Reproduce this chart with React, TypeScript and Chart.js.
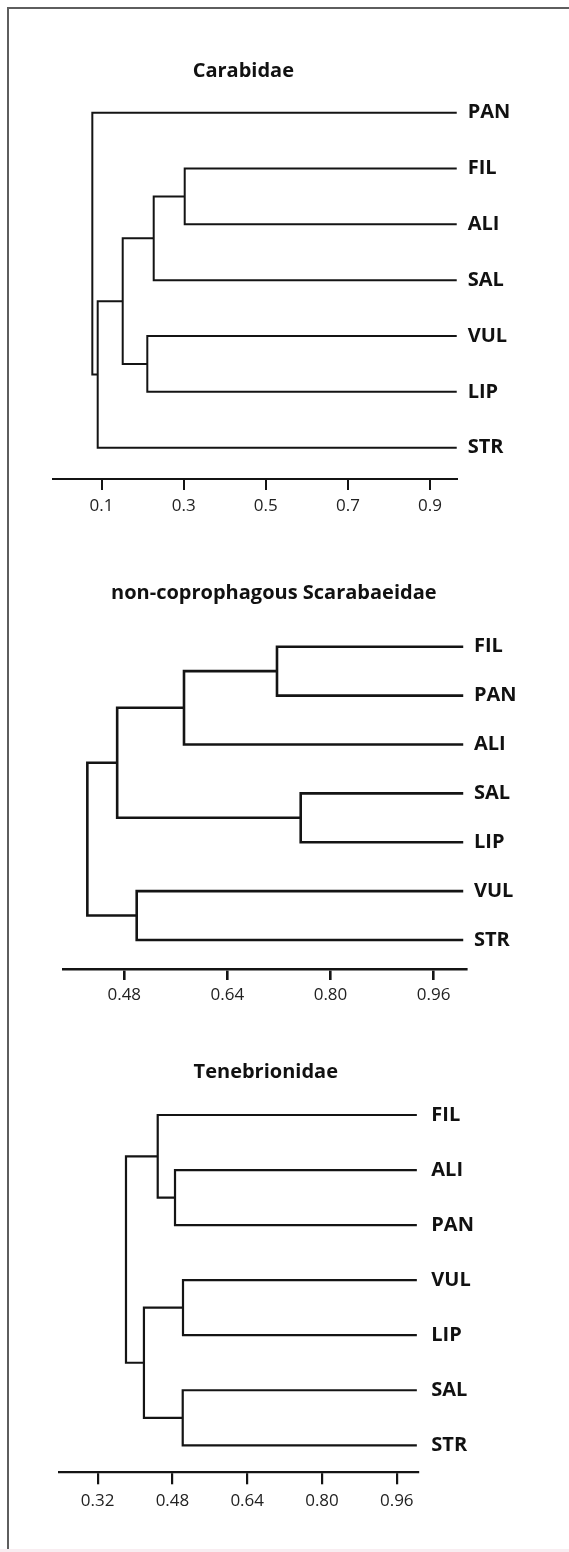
import React, { useEffect, useRef } from "react";
import { Chart, registerables } from "chart.js";

Chart.register(...registerables);

// ---------------- DATA ----------------
// Merges: [child A, child B, similarity level]; "#k" refers to the k-th merge.

const carabidaeTitle = "Carabidae";
const carabidaeLeaves = ["PAN", "FIL", "ALI", "SAL", "VUL", "LIP", "STR"];
const carabidaeMerges: [string, string, number][] = [
  ["FIL", "ALI", 0.3025],
  ["#0", "SAL", 0.227],
  ["VUL", "LIP", 0.2114],
  ["#1", "#2", 0.1515],
  ["#3", "STR", 0.0906],
  ["PAN", "#4", 0.0775],
];
const carabidaeLeafEnd = 0.965;
const carabidaeTickValues = [0.1, 0.3, 0.5, 0.7, 0.9];
const carabidaeTickLabels = ["0.1", "0.3", "0.5", "0.7", "0.9"];

const scarabTitle = "non-coprophagous Scarabaeidae";
const scarabLeaves = ["FIL", "PAN", "ALI", "SAL", "LIP", "VUL", "STR"];
const scarabMerges: [string, string, number][] = [
  ["FIL", "PAN", 0.717],
  ["#0", "ALI", 0.5727],
  ["SAL", "LIP", 0.7538],
  ["#1", "#2", 0.469],
  ["VUL", "STR", 0.4993],
  ["#3", "#4", 0.4227],
];
const scarabLeafEnd = 1.006;
const scarabTickValues = [0.48, 0.64, 0.8, 0.96];
const scarabTickLabels = ["0.48", "0.64", "0.80", "0.96"];

const tenebTitle = "Tenebrionidae";
const tenebLeaves = ["FIL", "ALI", "PAN", "VUL", "LIP", "SAL", "STR"];
const tenebMerges: [string, string, number][] = [
  ["ALI", "PAN", 0.4855],
  ["FIL", "#0", 0.4485],
  ["VUL", "LIP", 0.5026],
  ["SAL", "STR", 0.502],
  ["#2", "#3", 0.419],
  ["#1", "#4", 0.3806],
];
const tenebLeafEnd = 1.003;
const tenebTickValues = [0.32, 0.48, 0.64, 0.8, 0.96];
const tenebTickLabels = ["0.32", "0.48", "0.64", "0.80", "0.96"];

// ---------------- LAYOUT (page pixels) ----------------
const PAGE_W = 569;
const FONT = "'Open Sans', 'Noto Sans', sans-serif";
const INK = "#141414";

type Layout = {
  x: number;
  top: number;
  height: number;
  titleX: number;
  titleY: number;
  chartLeft: number;
  chartRight: number;
  axisY: number;
  firstLeafY: number;
  leafStep: number;
  xMin: number;
  xMax: number;
  lineWidth: number;
  tickLen: number;
  tickPad: number;
  labelPad: number;
};

const layout1: Layout = {
  x: -40, top: 0, height: 540, titleX: 243.3, titleY: 71.5,
  chartLeft: 52.7, chartRight: 456.7, axisY: 479,
  firstLeafY: 112.7, leafStep: 55.83,
  xMin: -0.019, xMax: 0.9649, lineWidth: 2.0, tickLen: 11, tickPad: 6, labelPad: 11,
};
const layout2: Layout = {
  x: 0, top: 540, height: 490, titleX: 273.8, titleY: 593,
  chartLeft: 63.3, chartRight: 466, axisY: 969,
  firstLeafY: 646.7, leafStep: 48.88,
  xMin: 0.3854, xMax: 1.0103, lineWidth: 2.6, tickLen: 11, tickPad: 5, labelPad: 8,
};
const layout3: Layout = {
  x: 0, top: 1030, height: 522, titleX: 265.8, titleY: 1072,
  chartLeft: 59.3, chartRight: 418.3, axisY: 1472.3,
  firstLeafY: 1115, leafStep: 55.05,
  xMin: 0.2379, xMax: 1.0061, lineWidth: 2.2, tickLen: 12, tickPad: 6.5, labelPad: 13,
};

function buildDatasets(leaves: string[], merges: [string, string, number][], leafEnd: number, lw: number) {
  const nodes: { x: number; y: number }[] = [];
  const pos = (id: string) =>
    id.startsWith("#") ? nodes[parseInt(id.slice(1), 10)] : { x: leafEnd, y: leaves.indexOf(id) };
  const datasets: any[] = [];
  merges.forEach(([a, b, h]) => {
    const pa = pos(a);
    const pb = pos(b);
    datasets.push({
      data: [
        { x: pa.x, y: pa.y },
        { x: h, y: pa.y },
        { x: h, y: pb.y },
        { x: pb.x, y: pb.y },
      ],
      showLine: true,
      borderColor: INK,
      borderWidth: lw,
      pointRadius: 0,
      pointHoverRadius: 0,
      fill: false,
      tension: 0,
      borderJoinStyle: "miter",
      borderCapStyle: "butt",
      clip: false,
    });
    nodes.push({ x: h, y: (pa.y + pb.y) / 2 });
  });
  return datasets;
}

type PanelProps = {
  title: string;
  leaves: string[];
  merges: [string, string, number][];
  leafEnd: number;
  tickValues: number[];
  tickLabels: string[];
  L: Layout;
};

function Dendrogram({ title, leaves, merges, leafEnd, tickValues, tickLabels, L }: PanelProps) {
  const ref = useRef<HTMLCanvasElement | null>(null);
  const canvasW = PAGE_W - L.x;

  useEffect(() => {
    if (!ref.current) return;
    const titleSize = 20;
    const titleLine = titleSize * 1.2;
    const chartTop = L.titleY + titleLine / 2;
    const yMin = -(L.firstLeafY - chartTop) / L.leafStep;
    const yMax = (L.axisY - L.firstLeafY) / L.leafStep;
    // canvas-local coordinates
    const cLeft = L.chartLeft - L.x;
    const cRight = L.chartRight - L.x;
    const titleBoxRight = 2 * (L.titleX - L.x);
    const xAxisH = L.top + L.height - L.axisY;

    const chart = new Chart(ref.current, {
      type: "scatter",
      data: { datasets: buildDatasets(leaves, merges, leafEnd, L.lineWidth) },
      options: {
        responsive: false,
        maintainAspectRatio: false,
        animation: false,
        events: [],
        layout: { padding: { left: 0, top: 0, bottom: 0, right: canvasW - titleBoxRight } },
        plugins: {
          legend: { display: false },
          tooltip: { enabled: false },
          title: {
            display: true,
            text: title,
            color: "#111",
            font: { family: FONT, size: titleSize, weight: "bold", lineHeight: 1.2 },
            padding: { top: L.titleY - L.top - titleLine / 2, bottom: 0 },
          },
        },
        scales: {
          x: {
            type: "linear",
            position: "bottom",
            min: L.xMin,
            max: L.xMax,
            afterBuildTicks: (s: any) => {
              s.ticks = tickValues.map((v) => ({ value: v }));
            },
            afterFit: (s: any) => {
              s.height = xAxisH;
            },
            ticks: {
              autoSkip: false,
              maxRotation: 0,
              padding: L.tickPad,
              color: "#222",
              font: { family: FONT, size: 17, lineHeight: 1.2 },
              callback: (_v: any, i: number) => tickLabels[i],
            },
            grid: {
              display: true,
              drawOnChartArea: false,
              drawTicks: true,
              tickLength: L.tickLen,
              color: INK,
              lineWidth: L.lineWidth,
            },
            border: { display: true, color: INK, width: L.lineWidth },
          },
          y: {
            type: "linear",
            position: "right",
            reverse: true,
            min: yMin,
            max: yMax,
            afterBuildTicks: (s: any) => {
              s.ticks = leaves.map((_n, i) => ({ value: i }));
            },
            afterFit: (s: any) => {
              s.width = titleBoxRight - cRight;
            },
            ticks: {
              autoSkip: false,
              padding: L.labelPad,
              color: "#111",
              font: { family: FONT, size: 20, weight: "bold", lineHeight: 1.2 },
              callback: (_v: any, i: number) => leaves[i],
            },
            grid: { display: false, drawTicks: false, tickLength: 0 },
            border: { display: false },
          },
          yLeft: {
            type: "linear",
            position: "left",
            display: true,
            afterFit: (s: any) => {
              s.width = cLeft;
            },
            ticks: { display: false },
            grid: { display: false, drawTicks: false },
            border: { display: false },
          },
        },
      } as any,
    });
    return () => chart.destroy();
  }, []);

  return (
    <canvas
      ref={ref}
      width={canvasW}
      height={L.height}
      style={{ position: "absolute", left: L.x, top: L.top, width: canvasW, height: L.height }}
    />
  );
}

export default function App() {
  return (
    <div
      style={{
        position: "absolute",
        left: 0,
        top: 0,
        width: PAGE_W,
        height: 1552,
        background: "#ffffff",
        overflow: "hidden",
      }}
    >
      <div
        style={{
          position: "absolute",
          left: 7,
          top: 7,
          right: 0,
          bottom: 0,
          borderTop: "2px solid #5e5e5e",
          borderLeft: "2px solid #5e5e5e",
        }}
      />
      <div style={{ position: "absolute", left: 0, right: 0, top: 1549, height: 3, background: "#f8edf1" }} />
      <Dendrogram
        title={carabidaeTitle}
        leaves={carabidaeLeaves}
        merges={carabidaeMerges}
        leafEnd={carabidaeLeafEnd}
        tickValues={carabidaeTickValues}
        tickLabels={carabidaeTickLabels}
        L={layout1}
      />
      <Dendrogram
        title={scarabTitle}
        leaves={scarabLeaves}
        merges={scarabMerges}
        leafEnd={scarabLeafEnd}
        tickValues={scarabTickValues}
        tickLabels={scarabTickLabels}
        L={layout2}
      />
      <Dendrogram
        title={tenebTitle}
        leaves={tenebLeaves}
        merges={tenebMerges}
        leafEnd={tenebLeafEnd}
        tickValues={tenebTickValues}
        tickLabels={tenebTickLabels}
        L={layout3}
      />
    </div>
  );
}
